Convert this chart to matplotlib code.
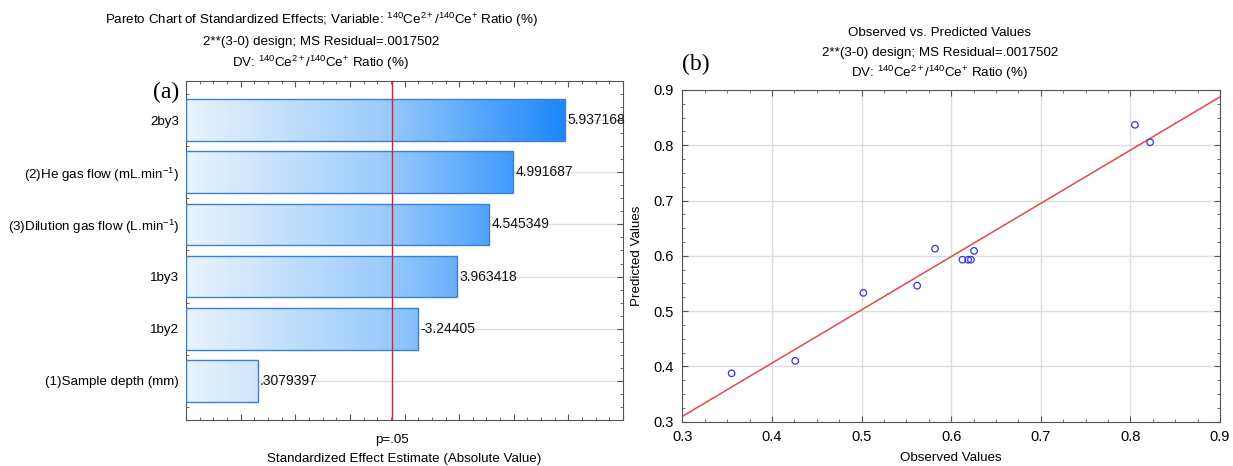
import matplotlib
matplotlib.use("Agg")
import matplotlib.pyplot as plt
import numpy as np
from matplotlib.colors import LinearSegmentedColormap
from matplotlib.ticker import MultipleLocator, NullFormatter
import matplotlib.transforms as mtransforms

plt.rcParams["font.family"] = ["Liberation Sans", "DejaVu Sans"]
plt.rcParams["mathtext.fontset"] = "custom"
plt.rcParams["mathtext.rm"] = "Liberation Sans"
plt.rcParams["mathtext.it"] = "Liberation Sans:italic"
plt.rcParams["mathtext.bf"] = "Liberation Sans:bold"

# Pareto chart data (top to bottom)
FACTORS = [
    "2by3",
    "(2)He gas flow (mL.min$^{-1}$)",
    "(3)Dilution gas flow (L.min$^{-1}$)",
    "1by3",
    "1by2",
    "(1)Sample depth (mm)",
]
EFFECTS = [5.937168, 4.991687, 4.545349, 3.963418, -3.24405, 0.3079397]
EFFECT_LABELS = ["5.937168", "4.991687", "4.545349", "3.963418", "-3.24405", ".3079397"]
T_CRIT = 2.776  # p=.05, df=4

# Observed vs predicted
OBSERVED = [0.355, 0.426, 0.502, 0.562, 0.582, 0.6125, 0.619, 0.622, 0.6255, 0.805, 0.822]
PREDICTED = [0.3875, 0.410, 0.533, 0.546, 0.613, 0.593, 0.593, 0.593, 0.609, 0.837, 0.8055]

DV = r"$^{140}$Ce$^{2+}$/$^{140}$Ce$^{+}$ Ratio (%)"
SPINE = "#555555"
FS = 9.6

fig = plt.figure(figsize=(12.33, 4.66), dpi=100)

# ---------------- (a) Pareto chart ----------------
ax1 = fig.add_axes([0.1509, 0.0987, 0.3544, 0.7275])
xmin, xmax = -1.0, 7.0
ypos = np.arange(len(FACTORS))[::-1]
widths = np.abs(EFFECTS) - xmin
bars = ax1.barh(ypos, widths, left=xmin, height=0.8, facecolor="none",
                edgecolor="#3d7fd6", linewidth=1.0, zorder=3)

cmap = LinearSegmentedColormap.from_list("pareto", ["#e9f4fe", "#9fcdfc", "#1a86fb"])
grad = np.linspace(0, 1, 256).reshape(1, -1)
for bar, y in zip(bars, ypos):
    im = ax1.imshow(grad, extent=(xmin, 6.0, y - 0.4, y + 0.4), aspect="auto",
                    cmap=cmap, zorder=2, interpolation="bilinear")
    im.set_clip_path(bar)

for y, v, lab in zip(ypos, EFFECTS, EFFECT_LABELS):
    ax1.text(abs(v) + 0.04, y, lab, va="center", ha="left", fontsize=10,
             color="#111111", zorder=4)

ax1.axvline(T_CRIT, color="#e02020", linewidth=1.0, zorder=4)
ax1.set_xlim(xmin, xmax)
ax1.set_ylim(-0.75, len(FACTORS) - 0.25)
ax1.set_yticks(ypos)
ax1.set_yticklabels(FACTORS, fontsize=FS)
ax1.xaxis.set_major_locator(MultipleLocator(1))
ax1.xaxis.set_minor_locator(MultipleLocator(0.25))
ax1.yaxis.set_minor_locator(MultipleLocator(0.25))
ax1.xaxis.set_major_formatter(NullFormatter())
ax1.yaxis.grid(True, color="#dddddd", linewidth=1.0, zorder=0)
ax1.set_axisbelow(True)
ax1.tick_params(which="both", direction="in", top=True, right=True, color=SPINE)
ax1.tick_params(which="major", length=4)
ax1.tick_params(which="minor", length=2)
ax1.tick_params(axis="y", which="major", pad=5)
for s in ax1.spines.values():
    s.set_color(SPINE)
trans = mtransforms.blended_transform_factory(ax1.transData, ax1.transAxes)
ax1.text(T_CRIT, -0.04, "p=.05", transform=trans, ha="center", va="top", fontsize=FS)
ax1.text(0.5, -0.097, "Standardized Effect Estimate (Absolute Value)",
         transform=ax1.transAxes, ha="center", va="top", fontsize=FS)

fig.text(321 / 1233, 1 - 20 / 466, "Pareto Chart of Standardized Effects; Variable: " + DV,
         ha="center", va="center", fontsize=FS)
fig.text(321 / 1233, 1 - 42 / 466, "2**(3-0) design; MS Residual=.0017502",
         ha="center", va="center", fontsize=FS)
fig.text(321 / 1233, 1 - 63 / 466, "DV: " + DV, ha="center", va="center", fontsize=FS)
fig.text(166 / 1233, 1 - 92 / 466, "(a)", ha="center", va="center", fontsize=17,
         family="Liberation Serif")

# ---------------- (b) Observed vs predicted ----------------
ax2 = fig.add_axes([0.5534, 0.0951, 0.4361, 0.7118])
slope, intercept = np.polyfit(OBSERVED, PREDICTED, 1)
xl = np.array([0.3, 0.9])
ax2.plot(xl, slope * xl + intercept, color="#e8474a", linewidth=1.1, zorder=3)
ax2.scatter(OBSERVED, PREDICTED, s=22, facecolors="none", edgecolors="#3535e8",
            linewidths=0.9, zorder=4)
ax2.set_xlim(0.3, 0.9)
ax2.set_ylim(0.3, 0.9)
ax2.xaxis.set_major_locator(MultipleLocator(0.1))
ax2.yaxis.set_major_locator(MultipleLocator(0.1))
ax2.xaxis.set_minor_locator(MultipleLocator(0.025))
ax2.yaxis.set_minor_locator(MultipleLocator(0.025))
ax2.grid(True, which="major", color="#dddddd", linewidth=1.0, zorder=0)
ax2.set_axisbelow(True)
ax2.tick_params(which="both", direction="in", top=True, right=True, color=SPINE,
                labelsize=10.5)
ax2.tick_params(which="major", length=4, pad=6)
ax2.tick_params(which="minor", length=2)
for s in ax2.spines.values():
    s.set_color(SPINE)
ax2.set_xlabel("Observed Values", fontsize=FS, labelpad=6)
ax2.set_ylabel("Predicted Values", fontsize=FS, labelpad=8)

fig.text(940 / 1233, 1 - 33 / 466, "Observed vs. Predicted Values",
         ha="center", va="center", fontsize=FS)
fig.text(940 / 1233, 1 - 53 / 466, "2**(3-0) design; MS Residual=.0017502",
         ha="center", va="center", fontsize=FS)
fig.text(940 / 1233, 1 - 73 / 466, "DV: " + DV, ha="center", va="center", fontsize=FS)
fig.text(696 / 1233, 1 - 64 / 466, "(b)", ha="center", va="center", fontsize=17,
         family="Liberation Serif")

fig.savefig("out.png", dpi=100)
